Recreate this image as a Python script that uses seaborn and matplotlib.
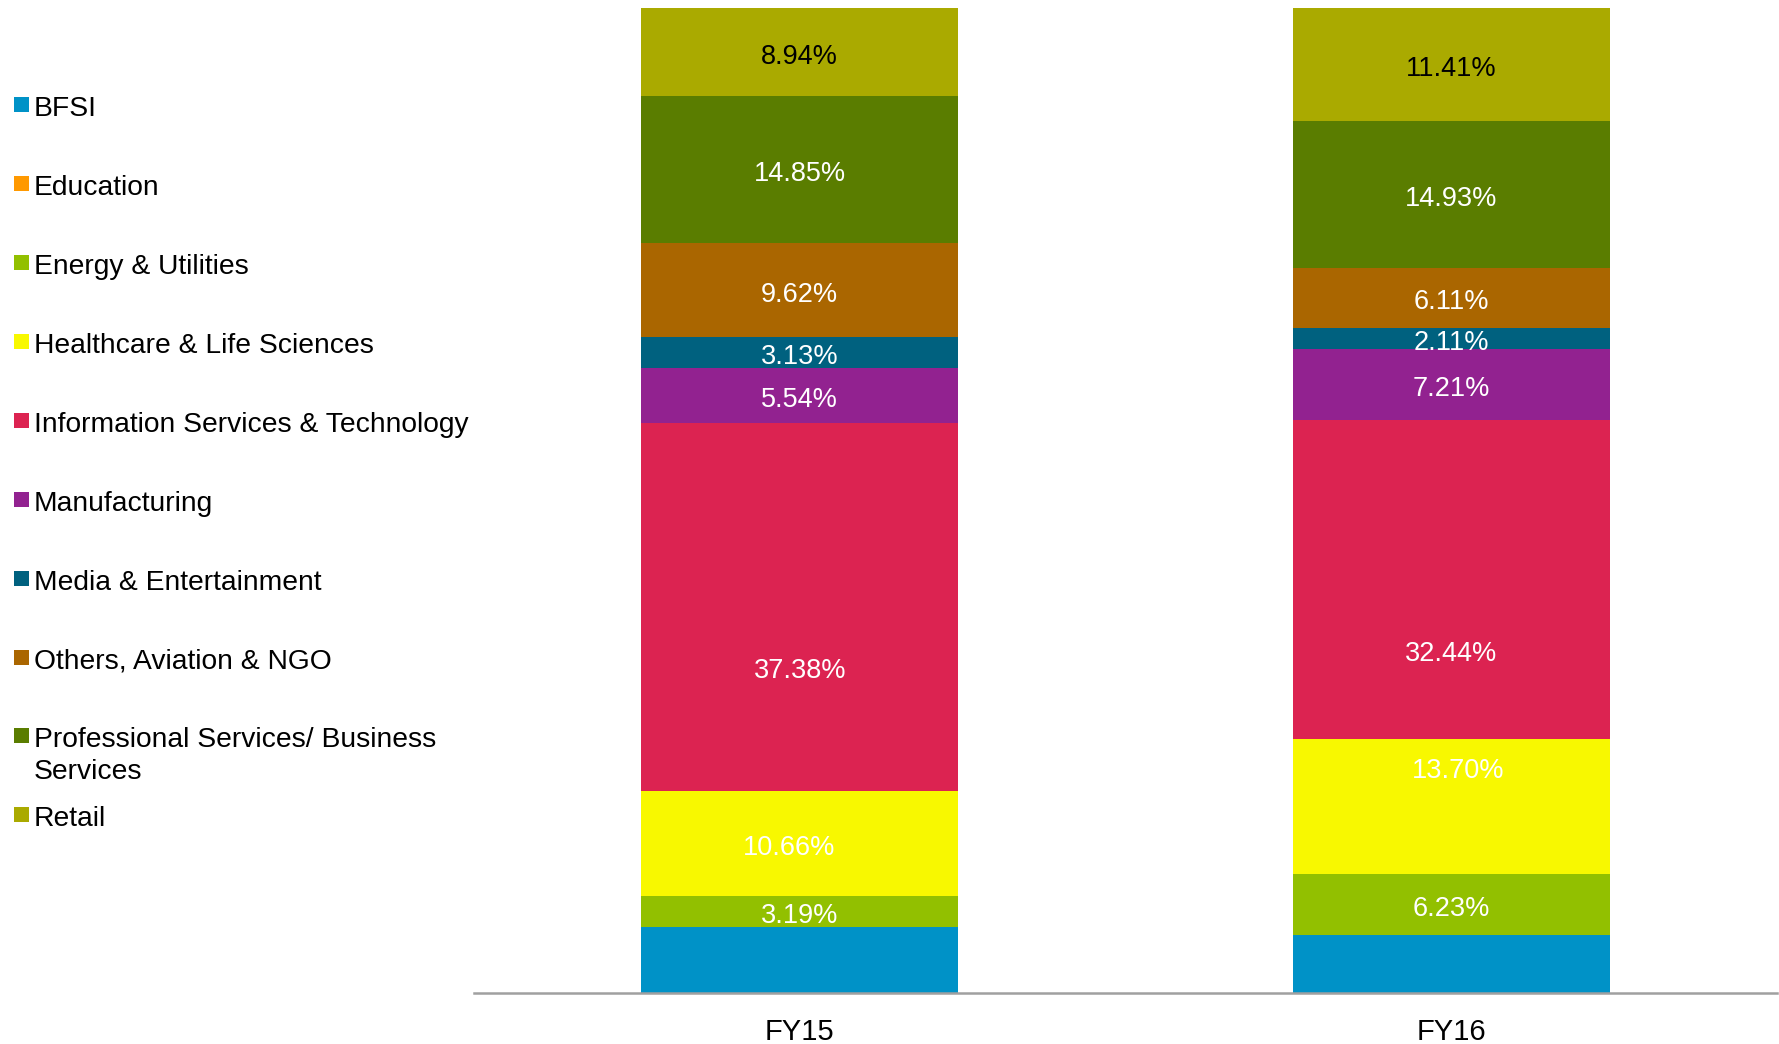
import matplotlib
matplotlib.use("Agg")
import matplotlib.pyplot as plt
import seaborn as sns
import numpy as np
from matplotlib.patches import Rectangle

years = ["FY15", "FY16"]
categories = ["BFSI", "Education", "Energy & Utilities", "Healthcare & Life Sciences",
              "Information Services & Technology", "Manufacturing", "Media & Entertainment",
              "Others, Aviation & NGO", "Professional Services/ Business\nServices", "Retail"]
fy15 = [6.65, 0.0, 3.19, 10.66, 37.38, 5.54, 3.13, 9.62, 14.85, 8.94]
fy16 = [5.84, 0.0, 6.23, 13.70, 32.44, 7.21, 2.11, 6.11, 14.93, 11.41]
labels15 = ["", "", "3.19%", "10.66%", "37.38%", "5.54%", "3.13%", "9.62%", "14.85%", "8.94%"]
labels16 = ["", "", "6.23%", "13.70%", "32.44%", "7.21%", "2.11%", "6.11%", "14.93%", "11.41%"]
colors = ["#0092C7", "#FF9900", "#92C000", "#F8F800", "#DC2351",
          "#922290", "#00617F", "#AA6600", "#5A7D00", "#AAAA00"]

# label placement tweaks (layout only)
label_dx = {(0, 3): -0.017, (1, 3): 0.010}
label_dy = {(0, 4): -6.1, (1, 4): -7.1, (1, 3): 4.1}

sns.set_theme(style="white")
plt.rcParams["font.family"] = ["Liberation Sans", "DejaVu Sans"]

fig = plt.figure(figsize=(17.79, 10.44), dpi=100)
ax = fig.add_axes([474 / 1779, 51 / 1044, (1777 - 474) / 1779, (993 - 8) / 1044])

vals = np.array([fy15, fy16])  # shape (2, ncat)
cum = np.cumsum(vals, axis=1)
width = 0.487

for i in range(len(categories) - 1, -1, -1):
    if np.all(vals[:, i] == 0):
        continue
    sns.barplot(x=years, y=cum[:, i], color=colors[i], saturation=1, width=width,
                ax=ax, linewidth=0)

for j, labs in enumerate([labels15, labels16]):
    for i, lab in enumerate(labs):
        if not lab:
            continue
        mid = cum[j, i] - vals[j, i] / 2 + label_dy.get((j, i), 0) - 0.45
        x = j + label_dx.get((j, i), 0)
        col = "black" if i == len(categories) - 1 else "white"
        ax.text(x, mid, lab, ha="center", va="center", fontsize=19.5, color=col)

ax.set_xlim(-0.5, 1.5)
ax.set_ylim(0, 100)
ax.set_yticks([])
ax.set_xlabel("")
ax.set_ylabel("")
for s in ["top", "right", "left"]:
    ax.spines[s].set_visible(False)
ax.spines["bottom"].set_color("#A0A0A0")
ax.spines["bottom"].set_linewidth(1.8)
ax.tick_params(axis="x", length=0, pad=18, labelsize=21, colors="black")

# legend (manual, Excel-like fixed slots)
W, H = 1779, 1044
y0, step = 106.7, 78.9
for i, (cat, c) in enumerate(zip(categories, colors)):
    yc = y0 + i * step
    fig.patches.append(Rectangle((14 / W, 1 - (yc + 5.5) / H), 15 / W, 15 / H,
                                 transform=fig.transFigure, facecolor=c, edgecolor="none"))
    fig.text(34 / W, 1 - (yc - 10.5) / H, cat, ha="left", va="top", fontsize=20.3,
             color="black", linespacing=1.27)

fig.savefig("out.png", dpi=100, facecolor="white")
